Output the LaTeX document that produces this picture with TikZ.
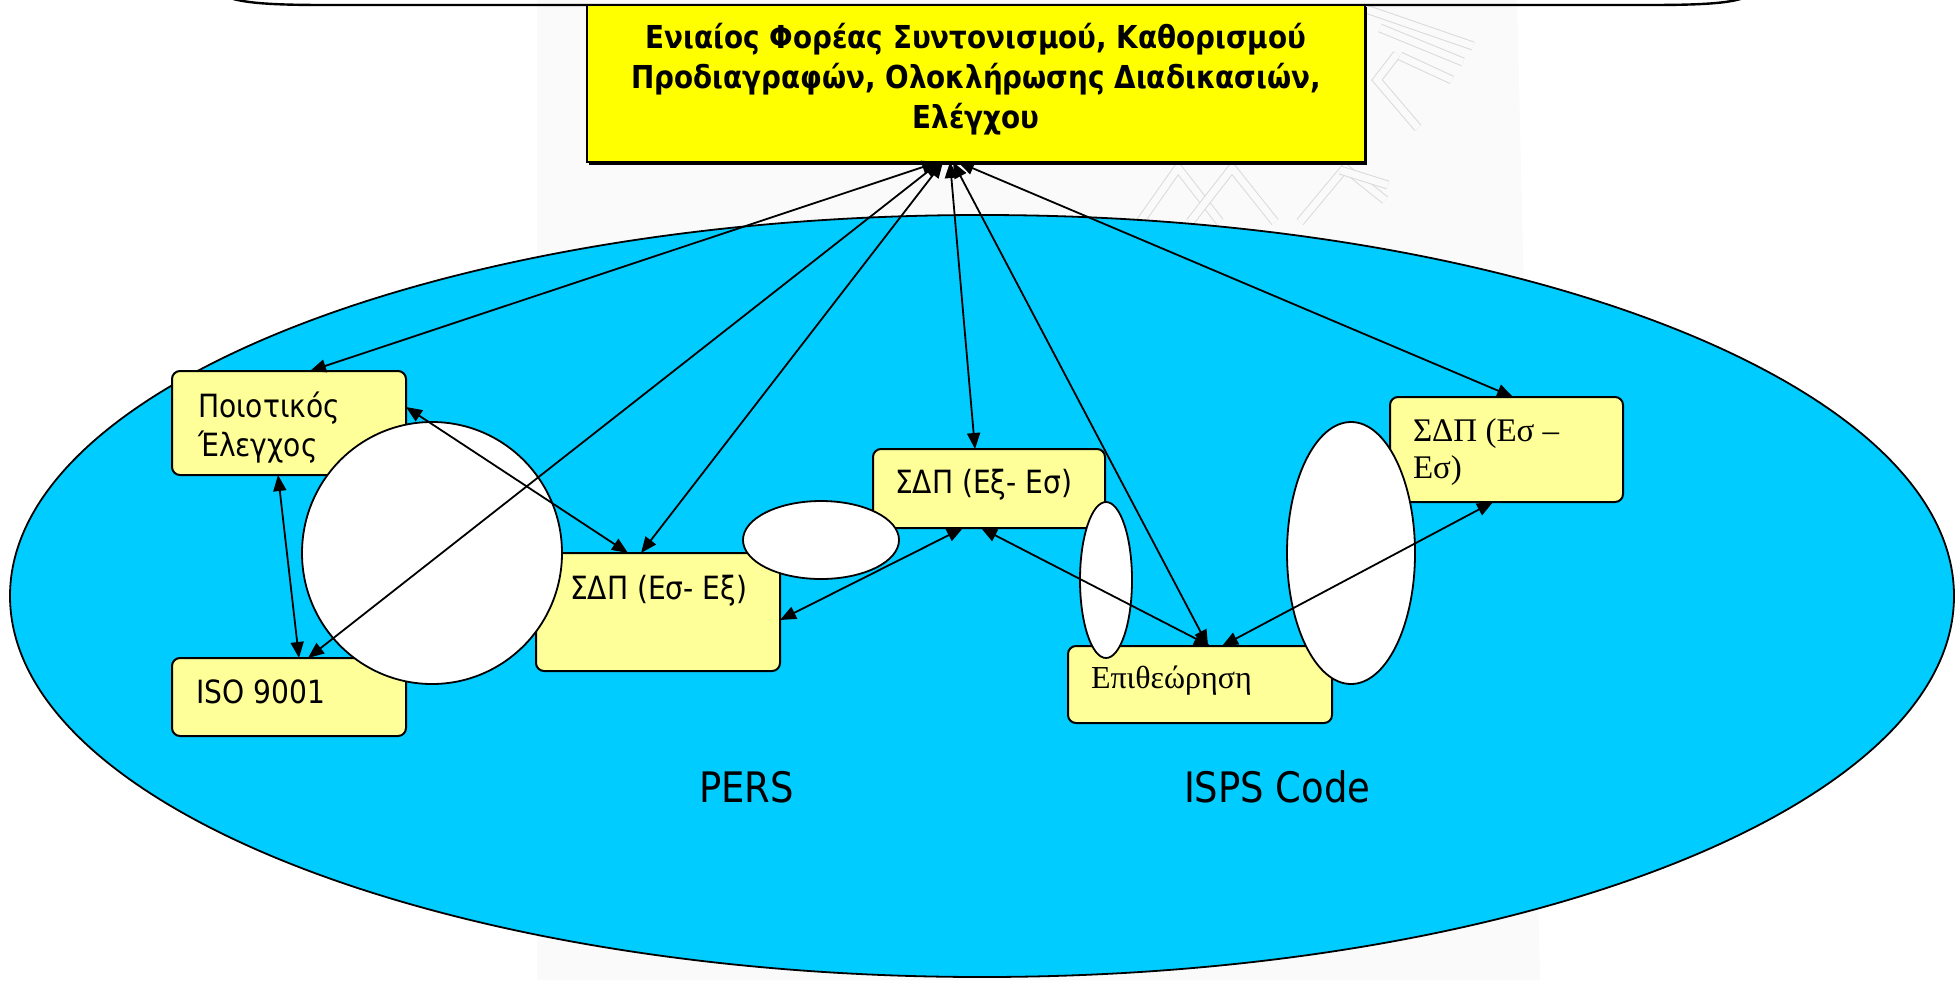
\documentclass[tikz,border=0pt]{standalone}
\usepackage{fontspec}
\setmainfont{DejaVu Sans}[FakeStretch=0.88]
\newfontfamily\timesgr{Liberation Serif}
\usetikzlibrary{shapes.geometric,arrows.meta,calc}
\definecolor{sea}{RGB}{0,204,255}
\definecolor{paleyellow}{RGB}{255,255,153}
\definecolor{brightyellow}{RGB}{255,255,0}
\definecolor{bandgray}{RGB}{250,250,250}
\definecolor{logogray}{RGB}{218,218,218}

\tikzset{
  box/.style={draw=black,line width=1pt,fill=paleyellow,rounded corners=4pt,
    anchor=north west,inner sep=0pt,outer sep=0pt},
  hole/.style={ellipse,draw=black,line width=0.9pt,fill=white,inner sep=0pt,outer sep=0pt},
  link/.style={line width=0.9pt,
    {Triangle[length=8pt,width=6.5pt]}-{Triangle[length=8pt,width=6.5pt]}},
  lbl/.style={anchor=base west,inner sep=0pt,outer sep=0pt,align=left,
    font=\fontsize{16}{19.5}\selectfont},
  serlbl/.style={anchor=base west,inner sep=0pt,outer sep=0pt,align=left,
    font=\timesgr\fontsize{16.5}{18.5}\selectfont},
  biglbl/.style={anchor=base west,inner sep=0pt,outer sep=0pt,
    font=\fontsize{21}{24}\selectfont},
  bar/.style={draw=logogray,line width=0.5pt,double=bandgray,double distance=3.5pt,
    line join=miter}
}

\begin{document}
\begin{tikzpicture}[x=0.5pt,y=-0.5pt]
\useasboundingbox (0,0) rectangle (1957,980);
\fill[white] (0,0) rectangle (1957,980);
% faint background band with its emblem
\fill[bandgray] (537,0) -- (1517,0) -- (1540,980) -- (537,980) -- cycle;
\draw[bar] (1363,8) -- (1473,46);
\draw[bar] (1380,28) -- (1463,62);
\draw[bar] (1397,54) -- (1377,80) -- (1418,128);
\draw[bar] (1400,56) -- (1452,80);
\draw[bar] (1140,222) -- (1178,168) -- (1220,222);
\draw[bar] (1190,222) -- (1232,168) -- (1275,222);
\draw[bar] (1300,222) -- (1345,168) -- (1385,200);
\draw[bar] (1340,170) -- (1388,185);

% lower edge of the frame above
\draw[line width=1.2pt] (225,-4) .. controls (240,3) and (270,5) .. (325,5)
  -- (1650,5) .. controls (1705,5) and (1735,3) .. (1748,-4);

% the sea area
\node[ellipse,draw=black,line width=0.9pt,fill=sea,inner sep=0pt,
  minimum width=972pt,minimum height=381pt] (sea) at (982,596) {};

% coordinating body
\fill[black] (589,7) rectangle (1367,165);
\node[draw=black,line width=1pt,fill=brightyellow,anchor=north west,inner sep=0pt,
  outer sep=0pt,minimum width=389pt,minimum height=78.5pt] (head) at (587,5) {};
\node[font=\bfseries\fontsize{15.8}{20}\selectfont,align=center,inner sep=0pt]
  (headtext) at (976,79)
  {Ενιαίος Φορέας Συντονισμού, Καθορισμού\\
   Προδιαγραφών, Ολοκλήρωσης Διαδικασιών,\\
   Ελέγχου};

% boxes
\node[box,minimum width=117pt,minimum height=52pt] (q) at (172,371) {};
\node[box,minimum width=117pt,minimum height=39pt] (iso) at (172,658) {};
\node[box,minimum width=122pt,minimum height=59pt] (s1) at (536,553) {};
\node[box,minimum width=116pt,minimum height=39.5pt] (s2) at (873,449) {};
\node[box,minimum width=116.5pt,minimum height=52.5pt] (s3) at (1390,397) {};
\node[box,minimum width=132pt,minimum height=38.5pt] (ep) at (1068,646) {};

% box texts (multi-line nodes sit on the baseline of their last line)
\node[lbl] (qtext) at (198,456) {Ποιοτικός\\Έλεγχος};
\node[lbl] (isotext) at (196,703) {ISO 9001};
\node[lbl] (s1text) at (570,599) {ΣΔΠ (Εσ- Εξ)};
\node[lbl] (s2text) at (895,493) {ΣΔΠ (Εξ- Εσ)};
\node[serlbl] (s3text) at (1413,478) {ΣΔΠ (Εσ –\\Εσ)};
\node[serlbl,font=\timesgr\fontsize{16}{18}\selectfont] (eptext) at (1091,688) {Επιθεώρηση};

% white islands
\node[hole,minimum width=130pt,minimum height=131pt] (isA) at (432,553) {};
\node[hole,minimum width=78pt,minimum height=39pt] (isB) at (821,540) {};
\node[hole,minimum width=26pt,minimum height=78pt] (isC) at (1106,580) {};
\node[hole,minimum width=64pt,minimum height=131pt] (isD) at (1351,553) {};

% links
\draw[link] ([shift={(351,0)}]head.south west) -- ([shift={(138,0)}]q.north west);
\draw[link] ([shift={(353,0)}]head.south west) -- ([shift={(136,0)}]iso.north west);
\draw[link] ([shift={(106,0)}]q.south west) -- ([shift={(127,0)}]iso.north west);
\draw[link] ([shift={(0,36)}]q.north east) -- ([shift={(92,0)}]s1.north west);
\draw[link] ([shift={(356,0)}]head.south west) -- ([shift={(105,0)}]s1.north west);
\draw[link] ([shift={(363,0)}]head.south west) -- ([shift={(102,0)}]s2.north west);
\draw[link] ([shift={(366,0)}]head.south west) -- ([shift={(140,0)}]ep.north west);
\draw[link] ([shift={(371,0)}]head.south west) -- ([shift={(123,0)}]s3.north west);
\draw[link] ([shift={(90,0)}]s2.south west) -- ([shift={(0,67)}]s1.north east);
\draw[link] ([shift={(108,0)}]s2.south west) -- ([shift={(142,0)}]ep.north west);
\draw[link] ([shift={(103,0)}]s3.south west) -- ([shift={(154,0)}]ep.north west);

% area names
\node[biglbl] (pers) at (699,802) {PERS};
\node[biglbl] (isps) at (1184,802) {ISPS Code};
\end{tikzpicture}
\end{document}
